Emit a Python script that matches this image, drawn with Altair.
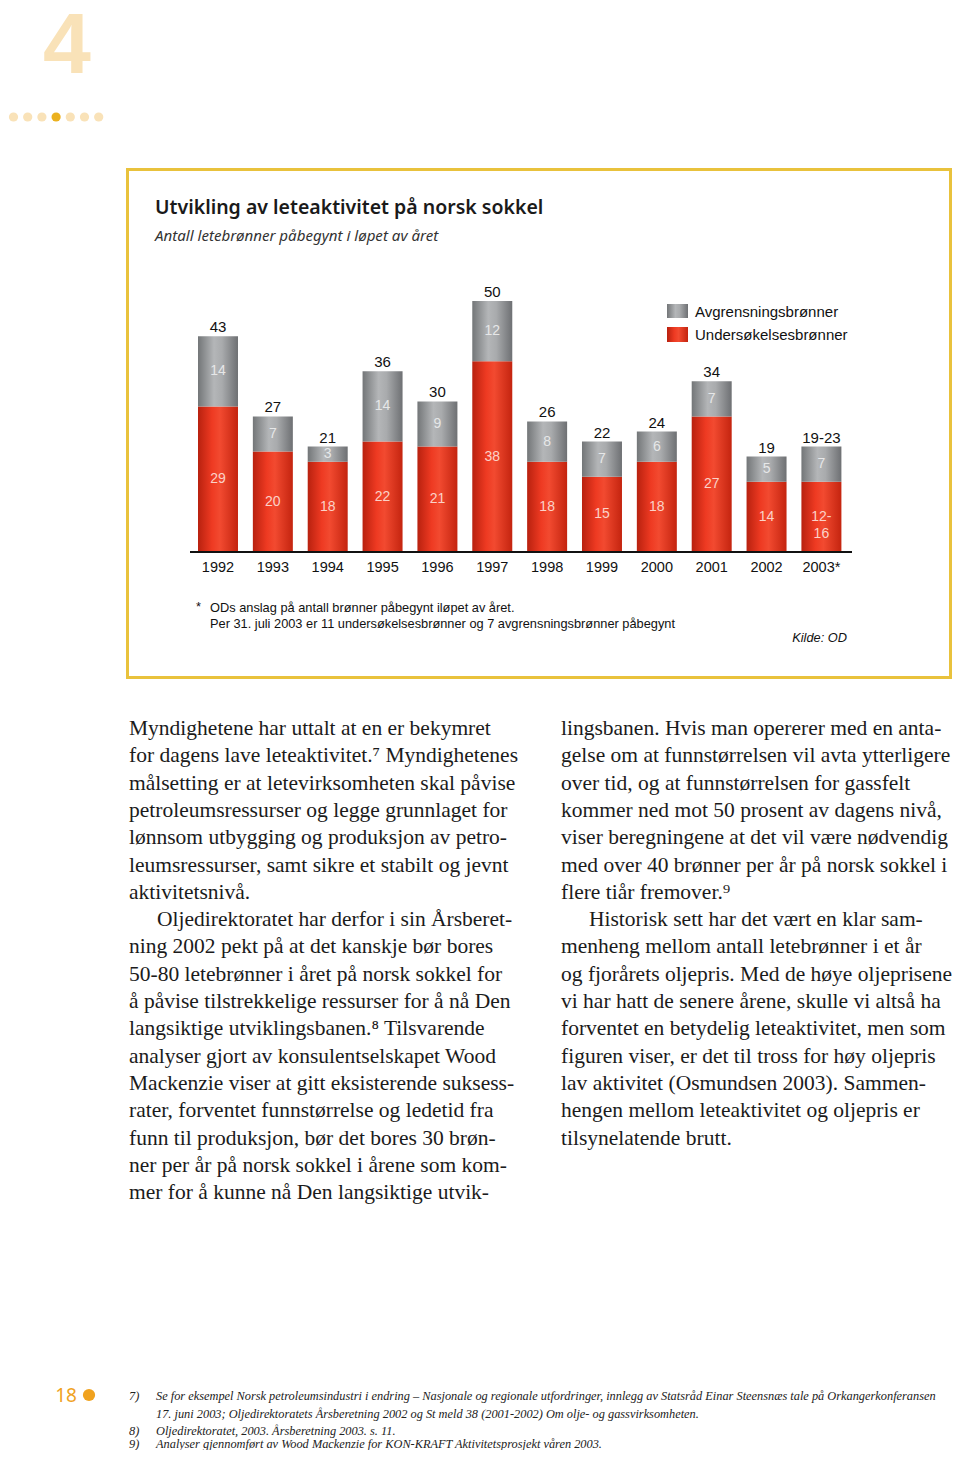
import altair as alt
import pandas as pd

# ---------------- data ----------------
years = ["1992", "1993", "1994", "1995", "1996", "1997", "1998", "1999", "2000", "2001", "2002", "2003*"]
undersokelse = [29, 20, 18, 22, 21, 38, 18, 15, 18, 27, 14, 14]
avgrensning = [14, 7, 3, 14, 9, 12, 8, 7, 6, 7, 5, 7]
total_labels = ["43", "27", "21", "36", "30", "50", "26", "22", "24", "34", "19", "19-23"]
undersokelse_labels = ["29", "20", "18", "22", "21", "38", "18", "15", "18", "27", "14", "12-\n16"]
avgrensning_labels = ["14", "7", "3", "14", "9", "12", "8", "7", "6", "7", "5", "7"]
series_names = ["Avgrensningsbrønner", "Undersøkelsesbrønner"]

title = "Utvikling av leteaktivitet på norsk sokkel"
subtitle = "Antall letebrønner påbegynt i løpet av året"
note_lines = ["ODs anslag på antall brønner påbegynt iløpet av året.",
              "Per 31. juli 2003 er 11 undersøkelsesbrønner og 7 avgrensningsbrønner påbegynt"]
source = "Kilde: OD"

left_column = [
    "Myndighetene har uttalt at en er bekymret",
    "for dagens lave leteaktivitet.\u2077 Myndighetenes",
    "målsetting er at letevirksomheten skal påvise",
    "petroleumsressurser og legge grunnlaget for",
    "lønnsom utbygging og produksjon av petro-",
    "leumsressurser, samt sikre et stabilt og jevnt",
    "aktivitetsnivå.",
    "Oljedirektoratet har derfor i sin Årsberet-",
    "ning 2002 pekt på at det kanskje bør bores",
    "50-80 letebrønner i året på norsk sokkel for",
    "å påvise tilstrekkelige ressurser for å nå Den",
    "langsiktige utviklingsbanen.\u2078 Tilsvarende",
    "analyser gjort av konsulentselskapet Wood",
    "Mackenzie viser at gitt eksisterende suksess-",
    "rater, forventet funnstørrelse og ledetid fra",
    "funn til produksjon, bør det bores 30 brøn-",
    "ner per år på norsk sokkel i årene som kom-",
    "mer for å kunne nå Den langsiktige utvik-",
]
left_indent = [7]
right_column = [
    "lingsbanen. Hvis man opererer med en anta-",
    "gelse om at funnstørrelsen vil avta ytterligere",
    "over tid, og at funnstørrelsen for gassfelt",
    "kommer ned mot 50 prosent av dagens nivå,",
    "viser beregningene at det vil være nødvendig",
    "med over 40 brønner per år på norsk sokkel i",
    "flere tiår fremover.\u2079",
    "Historisk sett har det vært en klar sam-",
    "menheng mellom antall letebrønner i et år",
    "og fjorårets oljepris. Med de høye oljeprisene",
    "vi har hatt de senere årene, skulle vi altså ha",
    "forventet en betydelig leteaktivitet, men som",
    "figuren viser, er det til tross for høy oljepris",
    "lav aktivitet (Osmundsen 2003). Sammen-",
    "hengen mellom leteaktivitet og oljepris er",
    "tilsynelatende brutt.",
]
right_indent = [7]

footnote_nums = ["7)", "", "8)", "9)"]
footnote_lines = [
    "Se for eksempel Norsk petroleumsindustri i endring – Nasjonale og regionale utfordringer, innlegg av Statsråd Einar Steensnæs tale på Orkangerkonferansen",
    "17. juni 2003; Oljedirektoratets Årsberetning 2002 og St meld 38 (2001-2002) Om olje- og gassvirksomheten.",
    "Oljedirektoratet, 2003. Årsberetning 2003. s. 11.",
    "Analyser gjennomført av Wood Mackenzie for KON-KRAFT Aktivitetsprosjekt våren 2003.",
]
page_number = "18"
chapter = "4"

# ---------------- table ----------------
df = pd.DataFrame({
    "year": years,
    "u": undersokelse,
    "a": avgrensning,
    "tot_lab": total_labels,
    "u_lab": undersokelse_labels,
    "a_lab": avgrensning_labels,
})
df["total"] = df["u"] + df["a"]
df["u_mid"] = df["u"] / 2
df["a_mid"] = df["u"] + df["a"] / 2

O = 8  # page margin offset


def P(v):
    return v - O


one = pd.DataFrame({"k": [0]})

xs = alt.X("year:N", sort=years,
           scale=alt.Scale(domain=years, range=[P(198), P(841.4)], paddingInner=0.271, paddingOuter=0),
           axis=None)
yscale = alt.Scale(domain=[0, 50], range=[P(552), P(301)], nice=False, zero=True)

red_grad = alt.Gradient(gradient="linear", x1=0, x2=1, y1=0, y2=0, stops=[
    alt.GradientStop(color="#b8210f", offset=0),
    alt.GradientStop(color="#ee3a22", offset=0.35),
    alt.GradientStop(color="#f24a30", offset=0.55),
    alt.GradientStop(color="#c4240f", offset=1)])
grey_grad = alt.Gradient(gradient="linear", x1=0, x2=1, y1=0, y2=0, stops=[
    alt.GradientStop(color="#737678", offset=0),
    alt.GradientStop(color="#b4b6b8", offset=0.4),
    alt.GradientStop(color="#a9abad", offset=0.6),
    alt.GradientStop(color="#6e7073", offset=1)])

layers = []

# frame
layers.append(alt.Chart(one).mark_rect(fill="white", stroke="#e9c23c", strokeWidth=3).encode(
    x=alt.value(P(127.5)), x2=alt.value(P(950.5)), y=alt.value(P(169.5)), y2=alt.value(P(677.5))))

# bars
base = alt.Chart(df)
layers.append(base.mark_bar(fill=red_grad).encode(
    x=xs, y=alt.Y("u:Q", scale=yscale, axis=None), y2=alt.value(P(552))))
layers.append(base.mark_bar(fill=grey_grad).encode(
    x=xs, y=alt.Y("u:Q", scale=yscale, axis=None), y2=alt.Y2("total:Q")))

# baseline
layers.append(alt.Chart(one).mark_rule(color="#111", strokeWidth=2).encode(
    x=alt.value(P(190)), x2=alt.value(P(852)), y=alt.value(P(552)), y2=alt.value(P(552))))

# value labels
layers.append(base.mark_text(font="Liberation Sans", fontSize=14, color="#fbd2c8",
                             lineBreak="\n", lineHeight=17, baseline="middle").encode(
    x=xs, y=alt.Y("u_mid:Q", scale=yscale, axis=None), text="u_lab:N"))
layers.append(base.mark_text(font="Liberation Sans", fontSize=14, color="#e6e7e8", baseline="middle").encode(
    x=xs, y=alt.Y("a_mid:Q", scale=yscale, axis=None), text="a_lab:N"))
layers.append(base.mark_text(font="Liberation Sans", fontSize=15, color="#111", baseline="bottom", dy=-1).encode(
    x=xs, y=alt.Y("total:Q", scale=yscale, axis=None), text="tot_lab:N"))
layers.append(base.mark_text(font="Liberation Sans", fontSize=14.5, color="#111", baseline="middle").encode(
    x=xs, y=alt.value(P(568)), text="year:N"))

# legend
layers.append(alt.Chart(one).mark_rect(fill=grey_grad).encode(
    x=alt.value(P(667)), x2=alt.value(P(688)), y=alt.value(P(304)), y2=alt.value(P(318))))
layers.append(alt.Chart(one).mark_rect(fill=red_grad).encode(
    x=alt.value(P(667)), x2=alt.value(P(688)), y=alt.value(P(327)), y2=alt.value(P(342))))


def txt(s, x, y, **kw):
    opts = dict(align="left", baseline="alphabetic")
    opts.update(kw)
    return alt.Chart(one).mark_text(text=s, **opts).encode(x=alt.value(P(x)), y=alt.value(P(y)))


layers.append(txt(series_names[0], 695, 317, font="Liberation Sans", fontSize=15, color="#111"))
layers.append(txt(series_names[1], 695, 340, font="Liberation Sans", fontSize=15, color="#111"))

# titles
layers.append(txt(title, 155, 214, font="Noto Sans", fontSize=19.5, fontWeight=600, color="#1a1a1a"))
layers.append(txt(subtitle, 155, 241, font="Noto Sans", fontSize=15.1, fontStyle="italic", color="#333"))

# notes
layers.append(txt("*", 196, 611, font="Liberation Sans", fontSize=12.8, color="#111"))
layers.append(txt(note_lines[0], 210, 612, font="Liberation Sans", fontSize=12.8, color="#111"))
layers.append(txt(note_lines[1], 210, 628, font="Liberation Sans", fontSize=12.8, color="#111"))
layers.append(txt(source, 847, 642, align="right", font="Liberation Sans", fontSize=12.8,
                  fontStyle="italic", color="#111"))

# chapter marker
layers.append(txt(chapter, 67, 73, align="center", font="Liberation Sans", fontSize=86,
                  fontWeight="bold", color="#f9e2b8"))
for i in range(7):
    layers.append(alt.Chart(one).mark_circle(
        size=85, opacity=1, color=("#ebb11f" if i == 3 else "#f9e2b8")).encode(
        x=alt.value(P(13.5 + i * 14.2)), y=alt.value(P(117))))

# body text
LH = 27.3
for col, lines, indents in ((129, left_column, left_indent), (561, right_column, right_indent)):
    for i, line in enumerate(lines):
        layers.append(txt(line, col + (28 if i in indents else 0), 735 + i * LH,
                          font="Liberation Serif", fontSize=21.5, color="#1b1b1b"))

# footer
layers.append(txt(page_number, 66, 1401.5, align="center", font="Noto Sans", fontSize=19, color="#f0a21e"))
layers.append(alt.Chart(one).mark_circle(size=150, opacity=1, color="#f0a21e").encode(
    x=alt.value(P(89)), y=alt.value(P(1395))))
fy = [1400, 1417.5, 1434.5, 1447.5]
for i, line in enumerate(footnote_lines):
    if footnote_nums[i]:
        layers.append(txt(footnote_nums[i], 129, fy[i], font="Liberation Serif", fontSize=12.35,
                          fontStyle="italic", color="#222"))
    layers.append(txt(line, 156, fy[i], font="Liberation Serif", fontSize=12.35,
                      fontStyle="italic", color="#222"))

chart = alt.layer(*layers).properties(
    width=944, height=1442, padding=0, autosize="none", background="white"
).configure_view(stroke="transparent", strokeWidth=0)

chart.save("out.html", embed_options={"renderer": "svg", "actions": False})
